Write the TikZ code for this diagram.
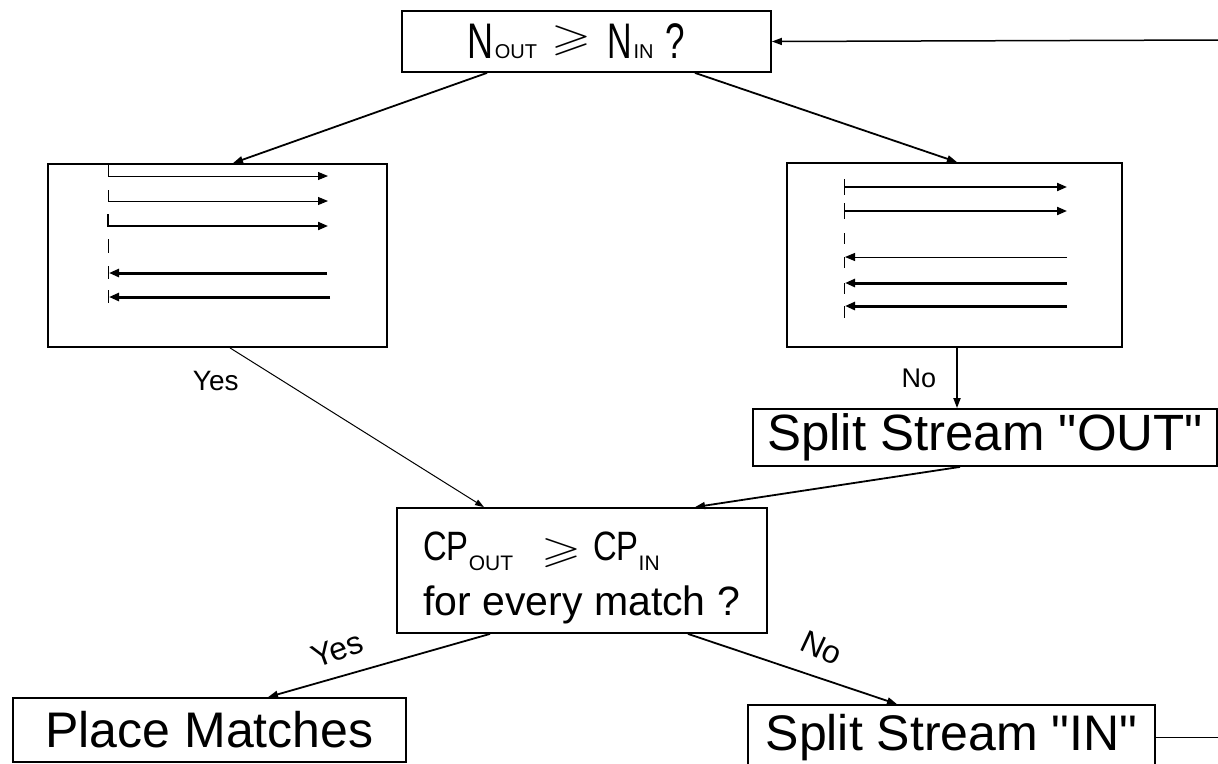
\documentclass[tikz,border=0pt]{standalone}
\usepackage{fontspec}
\setmainfont{Liberation Sans}[Ligatures=TeXReset]
\usepackage{amssymb}
\usepackage{graphicx}
\usetikzlibrary{arrows.meta,calc}
\newcommand\hsc[2]{\scalebox{#1}[1]{#2}}
\newcommand\fsz[1]{\fontsize{#1}{#1}\selectfont}
\newcommand\geqbig[3]{\raisebox{#3}{\resizebox*{#1}{#2}{$\geqslant$}}}
\begin{document}
\begin{tikzpicture}[x=1pt,y=-1pt,
  box/.style={draw, line width=1.8pt, inner sep=2pt, align=center},
  conn/.style={line width=1.8pt, -{Triangle[length=10pt,width=7pt]}},
  thinconn/.style={line width=1pt, -{Triangle[length=9pt,width=6pt]}},
  lbl/.style={inner sep=0pt},
  lwa/.style={line width=1pt},
  lwb/.style={line width=2pt},
  lwc/.style={line width=3pt},
  tipr/.style={-{Triangle[length=10pt,width=8pt]}}]
\useasboundingbox (0,0) rectangle (1218,763);

% boxes
\node[box, minimum width=369pt, minimum height=61pt] (top) at (586.5,41.5)
  {{\fsz{50}\hsc{0.72}{N}}\kern1pt{\fsz{20}OUT}\kern14pt\geqbig{40pt}{30pt}{8pt}\kern16pt{\fsz{50}\hsc{0.68}{N}}\kern2pt{\fsz{20}IN}\kern12pt{\fsz{50}\hsc{0.7}{?}}\kern20pt};
\node[box, minimum width=339pt, minimum height=183pt] (leftbox) at (217.5,255.5) {};
\node[box, minimum width=335pt, minimum height=184pt] (rightbox) at (954.5,255) {};
\node[box, minimum width=464pt, minimum height=57pt] (splitout) at (985,437.5) {\fsz{51}Split Stream "OUT"};
\node[box, minimum width=370pt, minimum height=125pt] (cp) at (582,570.5) {};
\node[inner sep=0pt, anchor=north west, align=left, font=\fontsize{41}{55}\selectfont] (cptext) at (423,532)
  {\hsc{0.8}{CP}\raisebox{-10pt}{\fsz{21}OUT}\kern28pt\geqbig{40pt}{29pt}{-2pt}\kern12pt\hsc{0.8}{CP}\raisebox{-10pt}{\fsz{21}IN}\\for every match ?};
\node[box, minimum width=393pt, minimum height=64pt] (place) at (209.5,730) {\fsz{50}Place Matches};
\node[box, minimum width=407pt, minimum height=65pt] (splitin) at (951.5,737.5) {\fsz{50}Split Stream "IN"};

% free ends
\coordinate (rin) at (1218,40);
\coordinate (rout) at (1218,737.5);

% left box internals
\draw[lwa, tipr] (108,164) -- (108,176) -- (328,176);
\draw[lwa, tipr] (108,190) -- (108,201) -- (328,201);
\draw[lwb, tipr] (108,214) -- (108,226) -- (328,226);
\draw[lwa] (108,239) -- (108,253);
\draw[lwa] (108,266) -- (108,279);
\draw[lwc, tipr] (327,273) -- (109,273);
\draw[lwa] (108,290) -- (108,303);
\draw[lwc, tipr] (330,297) -- (109,297);

% right box internals
\draw[lwa] (844,179) -- (844,195);
\draw[lwb, tipr] (844,187) -- (1067,187);
\draw[lwa] (844,203) -- (844,219);
\draw[lwb, tipr] (844,211) -- (1067,211);
\draw[lwa] (844,233) -- (844,244);
\draw[lwa] (844,257) -- (844,268);
\draw[lwa, tipr] (1067,257) -- (845,257);
\draw[lwa] (844,283) -- (844,294);
\draw[lwc, tipr] (1067,283) -- (845,283);
\draw[lwa] (844,306) -- (844,318);
\draw[lwc, tipr] (1067,306) -- (845,306);

% connectors
\draw[conn, line width=1.5pt] (rin) -- (top.east);
\draw[conn] ([xshift=-99.5pt]top.south) -- ([xshift=15.5pt]leftbox.north);
\draw[conn] ([xshift=108.5pt]top.south) -- ([xshift=2.5pt]rightbox.north);
\draw[conn] ([xshift=2.5pt]rightbox.south) -- ([xshift=2.5pt]rightbox.south |- splitout.north)
  node[lbl, midway, left=20pt] {\fsz{27}No};
\draw[thinconn] ([xshift=12.5pt]leftbox.south) -- ([xshift=-98pt]cp.north)
  node[lbl, pos=0.205, left=43pt] {\fsz{28}Yes};
\draw[conn] ([xshift=-25pt]splitout.south) -- ([xshift=113pt]cp.north);
\draw[conn] ([xshift=-92pt]cp.south) -- ([xshift=58.5pt]place.north)
  node[lbl, pos=0.69, yshift=28pt, rotate=20] {\fsz{32}Yes};
\draw[conn] ([xshift=106pt]cp.south) -- ([xshift=-54.5pt]splitin.north)
  node[lbl, pos=0.64, yshift=31pt, rotate=-25] {\fsz{32}No};
\draw[line width=1.8pt] (splitin.east) -- (rout);
\end{tikzpicture}
\end{document}
